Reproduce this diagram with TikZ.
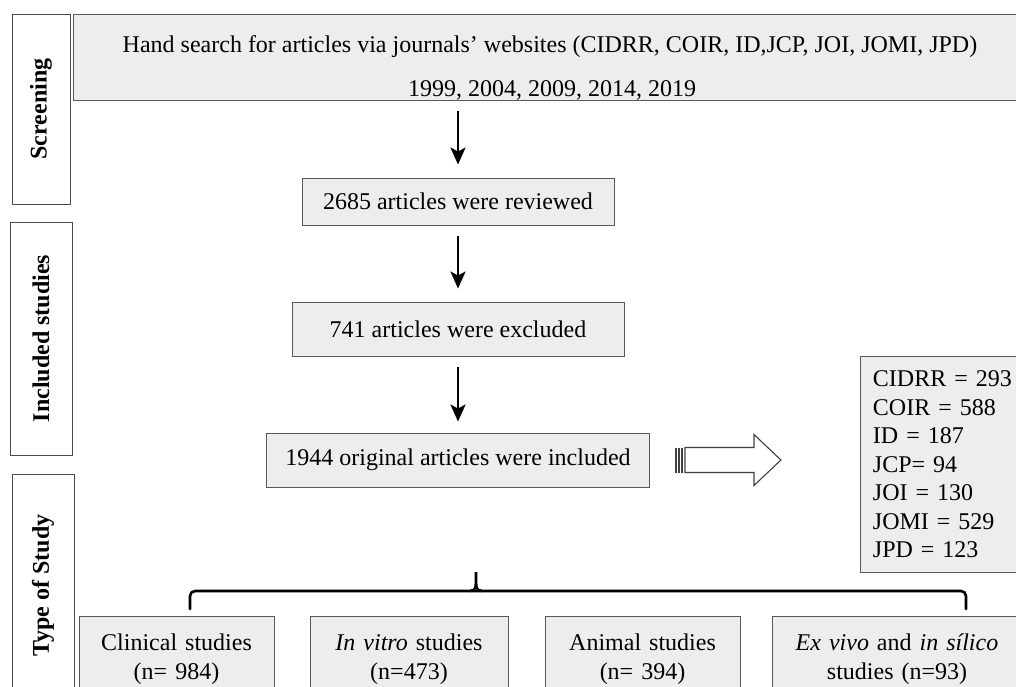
\documentclass[tikz,border=0pt]{standalone}
\usepackage{fontspec}
\setmainfont{Liberation Serif}
\usetikzlibrary{arrows.meta}

\tikzset{
    greybox/.style={draw=black!65, fill=black!7, line width=0.9pt, inner sep=0pt},
    labelbox/.style={draw=black!70, fill=white, line width=0.9pt, inner sep=0pt, rotate=90,
        font=\fontsize{24}{28.5}\selectfont\bfseries},
    studybox/.style={greybox, anchor=north, align=center, inner xsep=5pt, inner ysep=17.6pt},
    flowarrow/.style={line width=2.8pt, -{Stealth[length=17pt,width=15pt,inset=4pt]}},
    blockarrow/.style={draw=black!75, fill=white, line width=1.1pt},
    bracket/.style={line width=2.6pt, line cap=round},
}

\begin{document}
\begin{tikzpicture}[x=1pt, y=-1pt, font=\fontsize{24}{28.5}\selectfont]
    \clip (0,0) rectangle (1016,686);
    \fill[white] (0,0) rectangle (1016,686);

    % stage labels
    \node[labelbox, minimum width=190pt, minimum height=58pt] (screening) at (41,109) {Screening};
    \node[labelbox, minimum width=233pt, minimum height=62pt] (incl) at (41,338.5) {Included studies};
    \node[labelbox, minimum width=223pt, minimum height=62pt] (type) at (43,585.5) {Type of Study};

    % search box
    \node[greybox, minimum width=954pt, minimum height=86pt] (search) at (550,57) {};
    \node[anchor=base] (searchtext) at (550,52) {Hand search for articles via journals’ websites (CIDRR, COIR, ID,JCP, JOI, JOMI, JPD)};
    \node[anchor=base] (years) at (552,96) {1999, 2004, 2009, 2014, 2019};

    % flow
    \node[greybox, minimum width=312pt, minimum height=47pt] (reviewed) at (458,201.5) {2685 articles were reviewed};
    \node[greybox, minimum width=332pt, minimum height=54pt] (excluded) at (458,329) {741 articles were excluded};
    \node[greybox, minimum width=383pt, minimum height=54pt] (included) at (458,460) {1944 original articles were included};

    \draw[flowarrow, shorten <=11pt, shorten >=13pt] (search.south -| reviewed.north) -- (reviewed.north);
    \draw[flowarrow, shorten <=11pt, shorten >=13pt] (reviewed.south) -- (excluded.north);
    \draw[flowarrow, shorten <=11pt, shorten >=11pt] (excluded.south) -- (included.north);

    % journals
    \node[greybox, anchor=north west, minimum width=170pt, minimum height=216pt, text width=145pt,
        inner xsep=11pt, align=left] (journals) at (860,356)
        {CIDRR = 293\\COIR = 588\\ID = 187\\JCP= 94\\JOI = 130\\JOMI = 529\\JPD = 123};

    \coordinate (tail) at ([xshift=35pt]included.east);
    \draw[blockarrow] (tail) ++(0,-12.5) -- ++(69,0) -- ++(0,-13) -- ++(27,25.5) -- ++(-27,25.5)
        -- ++(0,-13) -- ++(-69,0) -- cycle;
    \foreach \s in {-9,-6,-3}
        \draw[blockarrow] (tail) ++(\s,-12.5) -- ++(0,25);

    % types of study
    \node[studybox, minimum width=195pt, text width=185pt] (clinical) at (176.5,616) {Clinical studies\\(n= 984)};
    \node[studybox, minimum width=198pt, text width=188pt] (invitro) at (409,616) {\textit{In vitro} studies\\(n=473)};
    \node[studybox, minimum width=195pt, text width=185pt] (animal) at (642.5,616) {Animal studies\\(n= 394)};
    \node[studybox, minimum width=250pt, text width=240pt] (exvivo) at (897,616) {\textit{Ex vivo} and \textit{in sílico}\\studies (n=93)};

    \draw[bracket, rounded corners=5pt] (190,609) -- (190,591) -- (966,591) -- (966,609);
    \draw[bracket] (470,591) .. controls (476,590) .. (476,572) .. controls (476,590) .. (482,591);
\end{tikzpicture}
\end{document}
